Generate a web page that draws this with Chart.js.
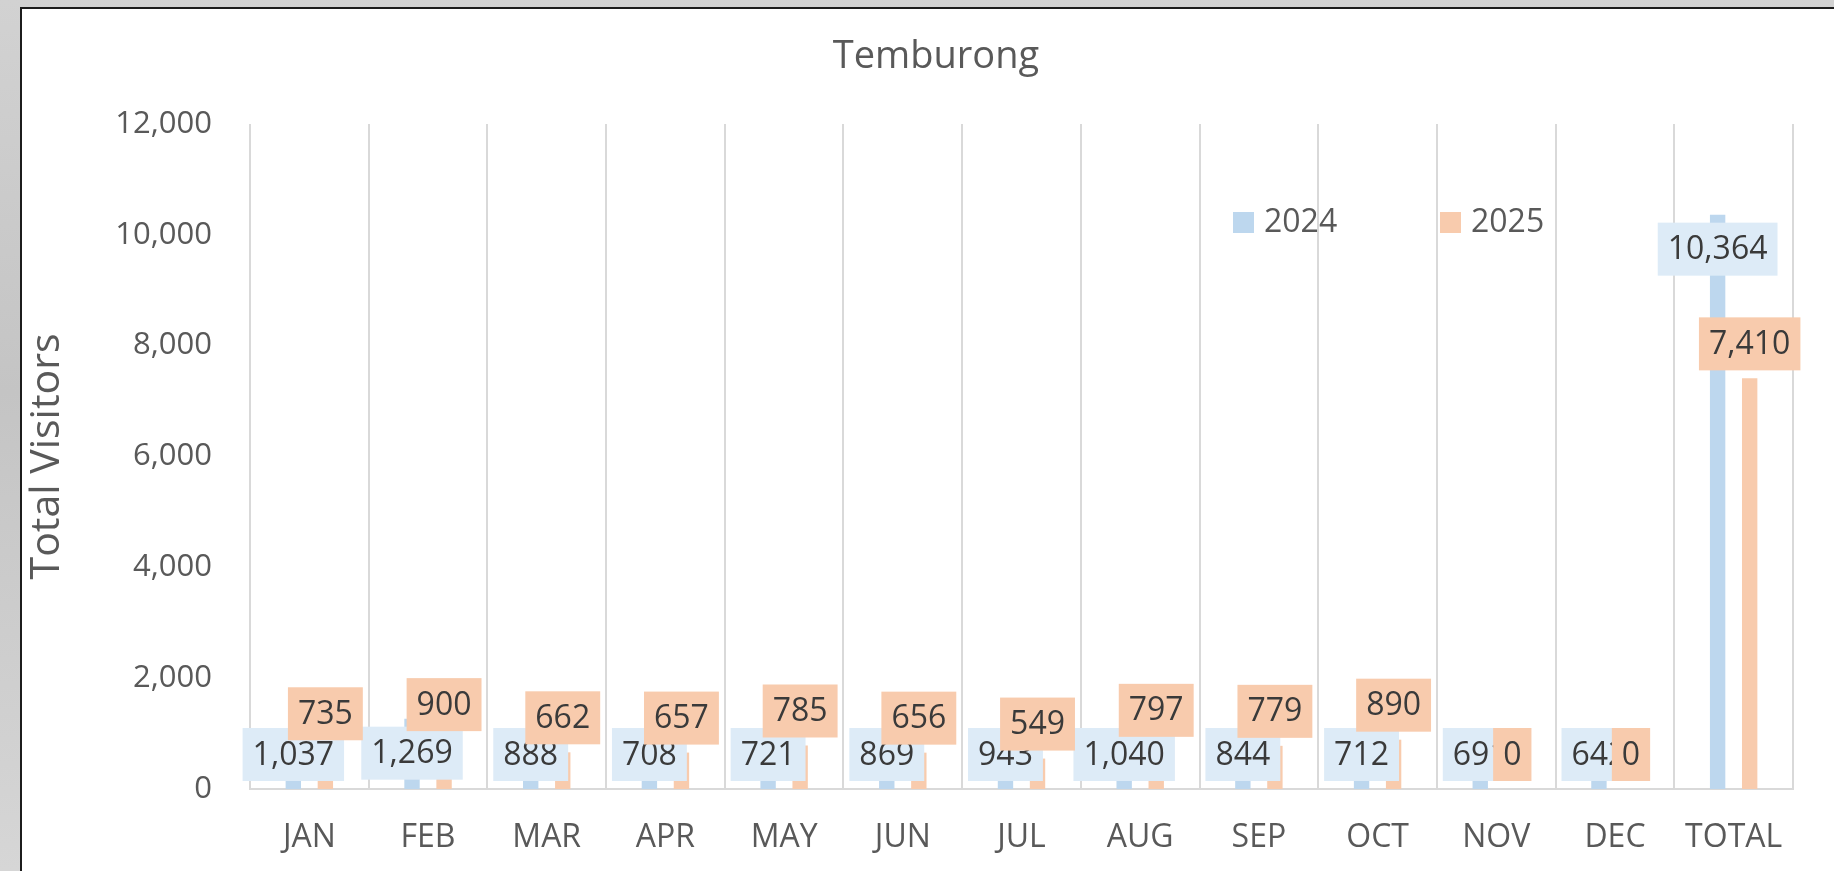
<!DOCTYPE html>
<html>
<head>
<meta charset="utf-8">
<title>Temburong</title>
<script src="https://cdn.jsdelivr.net/npm/chart.js@4.4.1/dist/chart.umd.min.js"></script>
<style>
  html, body { margin: 0; padding: 0; }
  body { width: 1834px; height: 871px; overflow: hidden; position: relative;
         background: linear-gradient(180deg, #d2d2d2 0%, #c4c4c4 45%, #d6d6d6 100%); }
  #panel { position: absolute; left: 20px; top: 7px; width: 1830px; height: 880px;
           background: #fff; border-left: 2px solid #1c1c1c; border-top: 2px solid #1c1c1c; }
  #chart { position: absolute; left: 0; top: 0; }
</style>
</head>
<body>
<div id="panel"></div>
<canvas id="chart" width="1834" height="871"></canvas>
<script>
// data
const categories = ['JAN', 'FEB', 'MAR', 'APR', 'MAY', 'JUN', 'JUL', 'AUG', 'SEP', 'OCT', 'NOV', 'DEC', 'TOTAL'];
const visitors2024 = [1037, 1269, 888, 708, 721, 869, 943, 1040, 844, 712, 691, 642, 10364];
const visitors2025 = [735, 900, 662, 657, 785, 656, 549, 797, 779, 890, 0, 0, 7410];
const yMax = 12000;
const yStep = 2000;

const FONT = "'Open Sans', sans-serif";
const TEXT_GREY = '#595959';

// chart title, centred like the Excel original (not over the plot area)
const chartTitle = {
    id: 'chartTitle',
    afterDraw(chart) {
        const ctx = chart.ctx;
        ctx.save();
        ctx.font = `38px ${FONT}`;
        ctx.fillStyle = TEXT_GREY;
        ctx.textAlign = 'center';
        ctx.textBaseline = 'middle';
        ctx.fillText('Temburong', 936, 57);
        ctx.restore();
    }
};

// Excel-style boxed data labels
const dataLabels = {
    id: 'dataLabels',
    afterDatasetsDraw(chart) {
        const ctx = chart.ctx;
        const boxH = 53, padX = 10, gap = 8;
        ctx.save();
        ctx.font = `32px ${FONT}`;
        ctx.textAlign = 'center';
        ctx.textBaseline = 'middle';
        chart.data.datasets.forEach((ds, i) => {
            const meta = chart.getDatasetMeta(i);
            meta.data.forEach((bar, j) => {
                const text = ds.data[j].toLocaleString('en-US');
                const w = ctx.measureText(text).width + 2 * padX;
                let top;
                if (ds.labelPos === 'inside') {
                    top = Math.min(bar.y + gap, bar.base - gap - boxH);
                } else {
                    top = bar.y - gap - boxH;
                }
                ctx.fillStyle = ds.labelBg;
                ctx.fillRect(bar.x - w / 2, top, w, boxH);
                ctx.fillStyle = '#3a3a3a';
                ctx.fillText(text, bar.x, top + boxH / 2 + 1);
            });
        });
        ctx.restore();
    }
};

// legend sitting inside the plot area
const innerLegend = {
    id: 'innerLegend',
    afterDraw(chart) {
        const ctx = chart.ctx;
        const area = chart.chartArea;
        let x = area.left + 983;
        const y = 222;
        ctx.save();
        ctx.font = `32px ${FONT}`;
        ctx.textBaseline = 'middle';
        ctx.textAlign = 'left';
        chart.data.datasets.forEach(ds => {
            ctx.fillStyle = ds.backgroundColor;
            ctx.fillRect(x, y - 10, 21, 21);
            ctx.fillStyle = TEXT_GREY;
            ctx.fillText(ds.label, x + 31, y + 1);
            x += 207;
        });
        ctx.restore();
    }
};

document.addEventListener('DOMContentLoaded', () => {
    const ctx = document.getElementById('chart').getContext('2d');
    new Chart(ctx, {
        type: 'bar',
        data: {
            labels: categories,
            datasets: [
                {
                    label: '2024',
                    data: visitors2024,
                    backgroundColor: '#BDD7EE',
                    labelBg: '#DDEBF7',
                    labelPos: 'inside'
                },
                {
                    label: '2025',
                    data: visitors2025,
                    backgroundColor: '#F8CBAD',
                    labelBg: '#F8CBAD',
                    labelPos: 'outside'
                }
            ]
        },
        options: {
            responsive: false,
            animation: false,
            devicePixelRatio: 1,
            datasets: {
                bar: { categoryPercentage: 0.54, barPercentage: 0.48 }
            },
            layout: { padding: { left: 0, right: 41, top: 124, bottom: 0 } },
            plugins: {
                legend: { display: false },
                tooltip: { enabled: false },
                title: { display: false }
            },
            scales: {
                x: {
                    grid: { color: '#D9D9D9', lineWidth: 2, drawTicks: false },
                    border: { color: '#D9D9D9', width: 2 },
                    ticks: {
                        color: TEXT_GREY,
                        font: { family: FONT, size: 32 },
                        padding: 30,
                        maxRotation: 0
                    },
                    afterFit(scale) { scale.height = 82; }
                },
                y: {
                    min: 0,
                    max: yMax,
                    grid: { display: false, drawTicks: false },
                    border: { display: false },
                    ticks: {
                        stepSize: yStep,
                        color: TEXT_GREY,
                        font: { family: FONT, size: 31 },
                        padding: 38,
                        callback: v => v.toLocaleString('en-US')
                    },
                    title: {
                        display: true,
                        text: 'Total Visitors',
                        color: TEXT_GREY,
                        font: { family: FONT, size: 41 },
                        padding: { top: 23, bottom: 0 }
                    },
                    afterFit(scale) { scale.width = 250; }
                }
            }
        },
        plugins: [dataLabels, innerLegend, chartTitle]
    });
});
</script>
</body>
</html>
